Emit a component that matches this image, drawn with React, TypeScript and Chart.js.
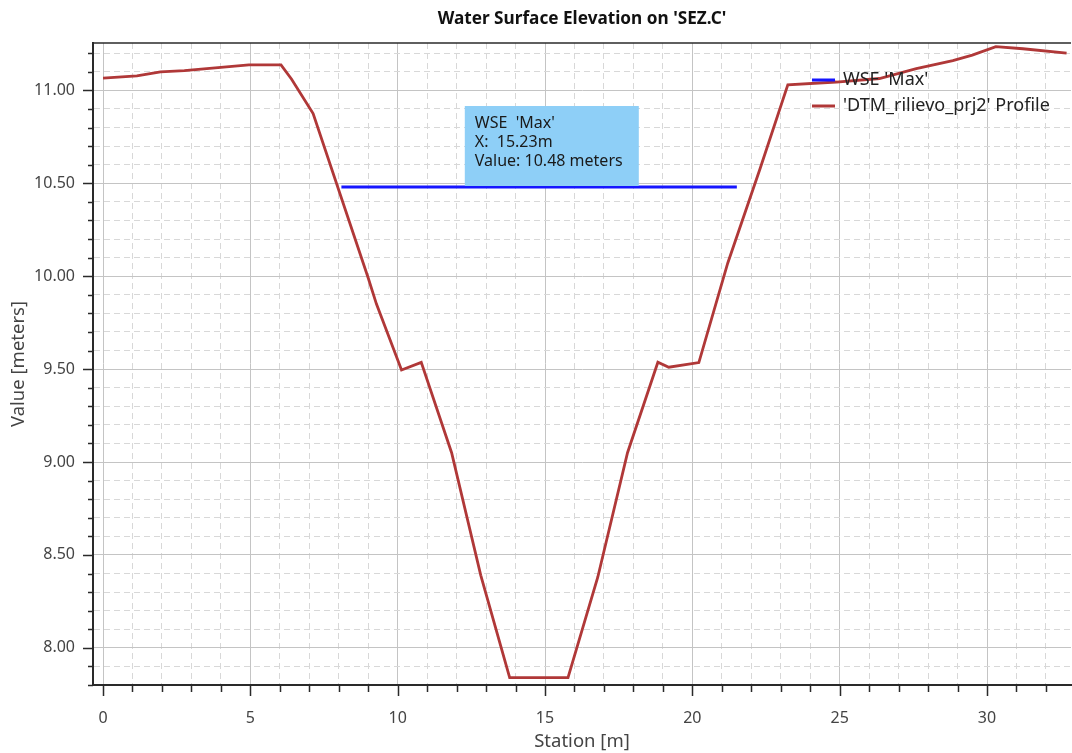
import React, { useEffect, useRef } from 'react';
import { Chart, registerables } from 'chart.js';

Chart.register(...registerables);

const TITLE = "Water Surface Elevation on 'SEZ.C'";
const X_TITLE = 'Station [m]';
const Y_TITLE = 'Value [meters]';

const STATIONS = [0, 1.15, 1.95, 2.76, 4.95, 6.04, 6.4, 7.13, 9.0, 9.28, 10.13, 10.8, 11.83, 12.82, 13.8, 15.78, 16.79, 17.8, 18.83, 19.2, 20.22, 21.2, 22.3, 23.24, 24.89, 26.35, 27.6, 28.84, 29.5, 30.3, 31.22, 32.7];
const ELEVATIONS = [11.066, 11.078, 11.1, 11.106, 11.137, 11.137, 11.06, 10.875, 9.99, 9.85, 9.495, 9.536, 9.05, 8.39, 7.84, 7.84, 8.38, 9.05, 9.537, 9.51, 9.535, 10.07, 10.58, 11.03, 11.045, 11.064, 11.117, 11.16, 11.19, 11.235, 11.224, 11.2];

const WSE_STATIONS = [8.09, 21.51];
const WSE_VALUES = [10.48, 10.48];

const SERIES_LABELS = ["WSE 'Max'", "'DTM_rilievo_prj2' Profile"];
const SERIES_COLORS = ['#1616ff', '#b03838'];

const TIP_LINES = ["WSE  'Max'", 'X:  15.23m', 'Value: 10.48 meters'];
const TIP_X = 15.23;
const TIP_Y = 10.48;

const X_MIN = -0.34;
const X_MAX = 32.85;
const Y_MIN = 7.8;
const Y_MAX = 11.255;
const X_TICKS = [0, 1, 2, 3, 4, 5, 6, 7, 8, 9, 10, 11, 12, 13, 14, 15, 16, 17, 18, 19, 20, 21, 22, 23, 24, 25, 26, 27, 28, 29, 30, 31, 32];
const Y_TICKS = [7.8, 7.9, 8.0, 8.1, 8.2, 8.3, 8.4, 8.5, 8.6, 8.7, 8.8, 8.9, 9.0, 9.1, 9.2, 9.3, 9.4, 9.5, 9.6, 9.7, 9.8, 9.9, 10.0, 10.1, 10.2, 10.3, 10.4, 10.5, 10.6, 10.7, 10.8, 10.9, 11.0, 11.1, 11.2];
const X_MAJOR = 5;
const Y_MAJOR = 0.5;

const FONT = "'Noto Sans', 'DejaVu Sans', sans-serif";

const isMajor = (v: number, step: number) => Math.abs(v / step - Math.round(v / step)) < 1e-6;

const decorPlugin = {
  id: 'decor',
  afterDatasetsDraw(chart: any) {
    const { ctx, scales } = chart;
    const xs = scales.x;
    const ys = scales.y;
    // tooltip-like annotation
    const px = xs.getPixelForValue(TIP_X);
    const py = ys.getPixelForValue(TIP_Y);
    const w = 174;
    const h = 80;
    const left = px - w / 2;
    const top = py - h - 1;
    ctx.save();
    ctx.fillStyle = '#8ecff7';
    ctx.fillRect(left, top, w, h);
    ctx.fillStyle = '#1a1a1a';
    ctx.font = `16px ${FONT}`;
    ctx.textBaseline = 'middle';
    ctx.textAlign = 'left';
    TIP_LINES.forEach((t, i) => ctx.fillText(t, left + 10, top + 17 + i * 19));
    ctx.restore();
  },
  afterDraw(chart: any) {
    const { ctx, chartArea, scales } = chart;
    const xs = scales.x;
    const ys = scales.y;
    ctx.save();
    // top border
    ctx.strokeStyle = '#2a2a2a';
    ctx.lineWidth = 1.5;
    ctx.beginPath();
    ctx.moveTo(chartArea.left - 1, chartArea.top);
    ctx.lineTo(chartArea.right, chartArea.top);
    ctx.stroke();
    // tick marks
    ctx.lineWidth = 1.5;
    ctx.beginPath();
    X_TICKS.forEach((v) => {
      const x = Math.round(xs.getPixelForValue(v)) + 0.5;
      const len = isMajor(v, X_MAJOR) ? 11 : 7;
      ctx.moveTo(x, chartArea.bottom);
      ctx.lineTo(x, chartArea.bottom + len);
    });
    Y_TICKS.forEach((v) => {
      const y = Math.round(ys.getPixelForValue(v)) + 0.5;
      const len = isMajor(v, Y_MAJOR) ? 10 : 5;
      ctx.moveTo(chartArea.left, y);
      ctx.lineTo(chartArea.left - len, y);
    });
    ctx.stroke();
    // legend
    const lx = chartArea.right - 259;
    const rows = [chartArea.top + 37, chartArea.top + 63];
    ctx.font = `18px ${FONT}`;
    ctx.textBaseline = 'middle';
    ctx.textAlign = 'left';
    chart.data.datasets.forEach((ds: any, i: number) => {
      ctx.strokeStyle = ds.borderColor;
      ctx.lineWidth = 3;
      ctx.beginPath();
      ctx.moveTo(lx, rows[i]);
      ctx.lineTo(lx + 23, rows[i]);
      ctx.stroke();
      ctx.fillStyle = '#222';
      ctx.fillText(ds.label, lx + 31, rows[i]);
    });
    ctx.restore();
  },
};

export default function App() {
  const ref = useRef<HTMLCanvasElement | null>(null);
  useEffect(() => {
    if (!ref.current) return;
    Chart.defaults.font.family = FONT;
    const profile = STATIONS.map((s, i) => ({ x: s, y: ELEVATIONS[i] }));
    const wse = WSE_STATIONS.map((s, i) => ({ x: s, y: WSE_VALUES[i] }));
    const chart = new Chart(ref.current, {
      type: 'line',
      data: {
        datasets: [
          { label: SERIES_LABELS[0], data: wse, borderColor: SERIES_COLORS[0], borderWidth: 3, pointRadius: 0, tension: 0 },
          { label: SERIES_LABELS[1], data: profile, borderColor: SERIES_COLORS[1], borderWidth: 2.8, pointRadius: 0, tension: 0 },
        ],
      },
      options: {
        responsive: false,
        animation: false,
        layout: { padding: { left: 0, right: 1, top: 0, bottom: 0 } },
        plugins: {
          legend: { display: false },
          tooltip: { enabled: false },
          title: {
            display: true,
            text: TITLE,
            fullSize: false,
            color: '#111',
            font: { size: 17.2, weight: 'bold', family: FONT },
            padding: { top: 8.5, bottom: 13.86 },
          },
        },
        scales: {
          x: {
            type: 'linear',
            min: X_MIN,
            max: X_MAX,
            afterFit: (s: any) => { s.height = 68; },
            afterBuildTicks: (s: any) => { s.ticks = X_TICKS.map((v) => ({ value: v })); },
            ticks: {
              autoSkip: false,
              maxRotation: 0,
              includeBounds: false,
              padding: 24,
              color: '#444',
              font: { size: 16, family: FONT },
              callback: (v: any) => (isMajor(Number(v), X_MAJOR) ? String(Math.round(Number(v))) : ''),
            },
            grid: {
              drawTicks: false,
              color: (c: any) => (c.tick && isMajor(c.tick.value, X_MAJOR) ? '#c4c4c4' : '#d8d8d8'),
              lineWidth: 1,
            },
            border: {
              display: true,
              color: '#2a2a2a',
              width: 2,
              dash: (c: any) => (c.tick && !isMajor(c.tick.value, X_MAJOR) ? [6, 4] : []),
            },
            title: { display: true, text: X_TITLE, color: '#444', font: { size: 18.5, family: FONT }, padding: { top: 0, bottom: 0 } },
          },
          y: {
            type: 'linear',
            min: Y_MIN,
            max: Y_MAX,
            afterFit: (s: any) => { s.width = 93; },
            afterBuildTicks: (s: any) => { s.ticks = Y_TICKS.map((v) => ({ value: v })); },
            ticks: {
              autoSkip: false,
              includeBounds: false,
              padding: 18,
              color: '#444',
              font: { size: 16, family: FONT },
              callback: (v: any) => (isMajor(Number(v), Y_MAJOR) ? Number(v).toFixed(2) : ''),
            },
            grid: {
              drawTicks: false,
              color: (c: any) => (c.tick && isMajor(c.tick.value, Y_MAJOR) ? '#c4c4c4' : '#d8d8d8'),
              lineWidth: 1,
            },
            border: {
              display: true,
              color: '#2a2a2a',
              width: 2,
              dash: (c: any) => (c.tick && !isMajor(c.tick.value, Y_MAJOR) ? [6, 4] : []),
            },
            title: { display: true, text: Y_TITLE, color: '#444', font: { size: 18.5, family: FONT }, padding: { top: 8, bottom: 0 } },
          },
        },
      },
      plugins: [decorPlugin],
    } as any);
    return () => chart.destroy();
  }, []);
  return (
    <div style={{ position: 'absolute', left: 0, top: 0, width: 1072, height: 753, background: '#fff' }}>
      <canvas ref={ref} width={1072} height={753} style={{ display: 'block' }} />
    </div>
  );
}
